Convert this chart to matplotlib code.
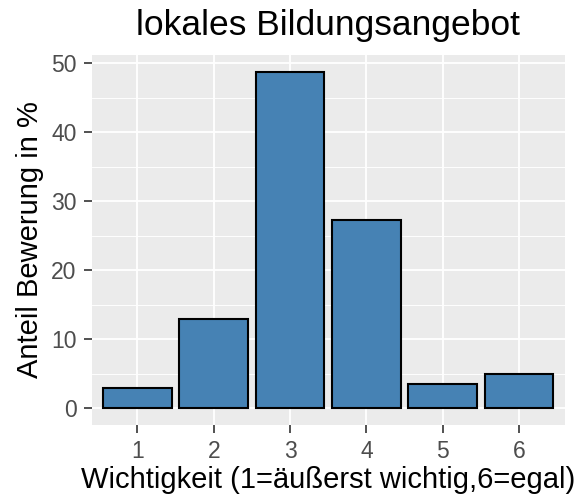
import matplotlib
matplotlib.use("Agg")
import matplotlib.pyplot as plt

categories = ["1", "2", "3", "4", "5", "6"]
values = [2.9, 13.0, 48.8, 27.3, 3.5, 5.0]
yticks = [0, 10, 20, 30, 40, 50]
minor_yticks = [5, 15, 25, 35, 45]

plt.rcParams["font.family"] = ["Liberation Sans", "DejaVu Sans"]

fig = plt.figure(figsize=(5.84, 5.03), dpi=100)
ax = fig.add_axes([0.157, 0.155, 0.810, 0.736])
ax.set_facecolor("#EBEBEB")

xpos = list(range(1, len(categories) + 1))
ax.bar(xpos, values, width=0.9, color="#4682B4", edgecolor="black", linewidth=1.5, zorder=3)

ax.set_xlim(0.4, 6.6)
ax.set_ylim(-2.44, 51.24)
ax.set_xticks(xpos)
ax.set_xticklabels(categories)
ax.set_yticks(yticks)
ax.set_yticks(minor_yticks, minor=True)

ax.grid(which="major", color="white", linewidth=1.3, zorder=0)
ax.grid(which="minor", axis="y", color="white", linewidth=0.65, zorder=0)
for s in ax.spines.values():
    s.set_visible(False)

ax.tick_params(which="major", colors="#333333", labelcolor="#4D4D4D", labelsize=16.5,
               length=6, width=1.2, pad=5)
ax.tick_params(which="minor", length=0)

ax.set_title("lokales Bildungsangebot", fontsize=25.5, pad=14)
ax.set_xlabel("Wichtigkeit (1=äußerst wichtig,6=egal)", fontsize=21, labelpad=2)
ax.set_ylabel("Anteil Bewerung in %", fontsize=21, labelpad=5)

fig.savefig("out.png", dpi=100)
